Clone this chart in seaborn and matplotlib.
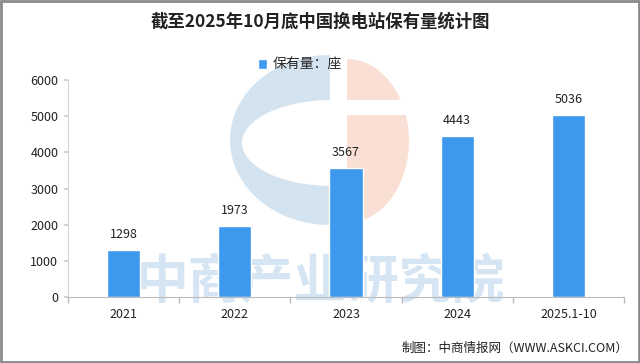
import matplotlib
matplotlib.use("Agg")
import matplotlib.pyplot as plt
import seaborn as sns
import pandas as pd
import numpy as np
from matplotlib.patches import Polygon, Ellipse, Rectangle

categories = ["2021", "2022", "2023", "2024", "2025.1-10"]
values = [1298, 1973, 3567, 4443, 5036]
yticks = [0, 1000, 2000, 3000, 4000, 5000, 6000]
title = "截至2025年10月底中国换电站保有量统计图"
legend_label = "保有量：座"
source = "制图：中商情报网（WWW.ASKCI.COM）"
watermark = "中商产业研究院"

sns.set_theme(style="white")
plt.rcParams['font.family'] = ['Noto Sans CJK SC', 'DejaVu Sans']

BAR = "#3C99EE"
LOGO_BLUE = "#D4E3F0"
LOGO_ORANGE = "#F9DFD4"
fig = plt.figure(figsize=(6.4, 3.63), dpi=100)

# background layer (pixel coordinates) with the faint logo watermark
bg = fig.add_axes([0, 0, 1, 1], zorder=0)
bg.set_xlim(0, 640)
bg.set_ylim(363, 0)
bg.axis("off")


def half_ellipse(cx, cy, rx, ry, t0, t1):
    t = np.linspace(np.radians(t0), np.radians(t1), 80)
    return np.column_stack([cx + rx * np.cos(t), cy - ry * np.sin(t)])


bg.add_patch(Polygon(half_ellipse(330, 140, 100, 85, 90, 270), closed=True,
                     facecolor=LOGO_BLUE, edgecolor="none"))
bg.add_patch(Ellipse((332, 143), 180, 86, facecolor="white", edgecolor="none"))
bg.add_patch(Polygon(half_ellipse(347, 141, 62, 82, -90, 90), closed=True,
                     facecolor=LOGO_ORANGE, edgecolor="none"))
bg.add_patch(Rectangle((330, 50), 17, 190, facecolor="white", edgecolor="none"))
bg.add_patch(Rectangle((345, 100), 70, 15, facecolor="white", edgecolor="none"))
bg.text(320, 282, watermark, ha="center", va="center", fontsize=38,
        fontweight="bold", color="#D6E5F3")
bg.add_patch(Rectangle((1, 1), 638, 361, facecolor="none", edgecolor="#8A8A8A", lw=2))

ax = fig.add_axes([68/640, 1-297/363, (624-68)/640, (297-80)/363], zorder=1)
ax.set_facecolor("none")
df = pd.DataFrame({"cat": categories, "val": values})
sns.barplot(data=df, x="cat", y="val", color=BAR, width=0.3, saturation=1,
            ax=ax, label=legend_label)

for i, v in enumerate(values):
    ax.text(i, v + 250, str(v), ha="center", va="bottom", fontsize=9, color="#222222")

ax.set_ylim(0, 6000)
ax.set_xlim(-0.5, len(categories) - 0.5)
ax.set_yticks(yticks)
ax.set_yticklabels([str(t) for t in yticks], fontsize=9, color="#222222")
ax.set_xticks(range(len(categories)))
ax.set_xticklabels(categories, fontsize=9, color="#222222")
ax.set_xticks([i - 0.5 for i in range(len(categories) + 1)], minor=True)
ax.tick_params(axis="x", which="major", length=0, pad=8)
ax.tick_params(axis="x", which="minor", length=4, color="#BBBBBB", direction="out", bottom=True)
ax.tick_params(axis="y", length=3, color="#CCCCCC", left=True, pad=4)
ax.set_xlabel("")
ax.set_ylabel("")
for s in ["top", "right"]:
    ax.spines[s].set_visible(False)
ax.spines["left"].set_color("#D3D3D3")
ax.spines["bottom"].set_color("#BBBBBB")
ax.spines["left"].set_linewidth(0.8)
ax.spines["bottom"].set_linewidth(0.8)

leg = ax.legend(loc="center", bbox_to_anchor=(300/640, 1-65/363), bbox_transform=fig.transFigure,
                frameon=False, fontsize=10, handlelength=0.7, handleheight=0.7, handletextpad=0.4)

fig.text(320/640, 1-22/363, title, ha="center", va="center", fontsize=12.5, fontweight="bold", color="#222222")
fig.text(628/640, 1-348/363, source, ha="right", va="center", fontsize=9, color="#222222")

fig.savefig("out.png", dpi=100)
